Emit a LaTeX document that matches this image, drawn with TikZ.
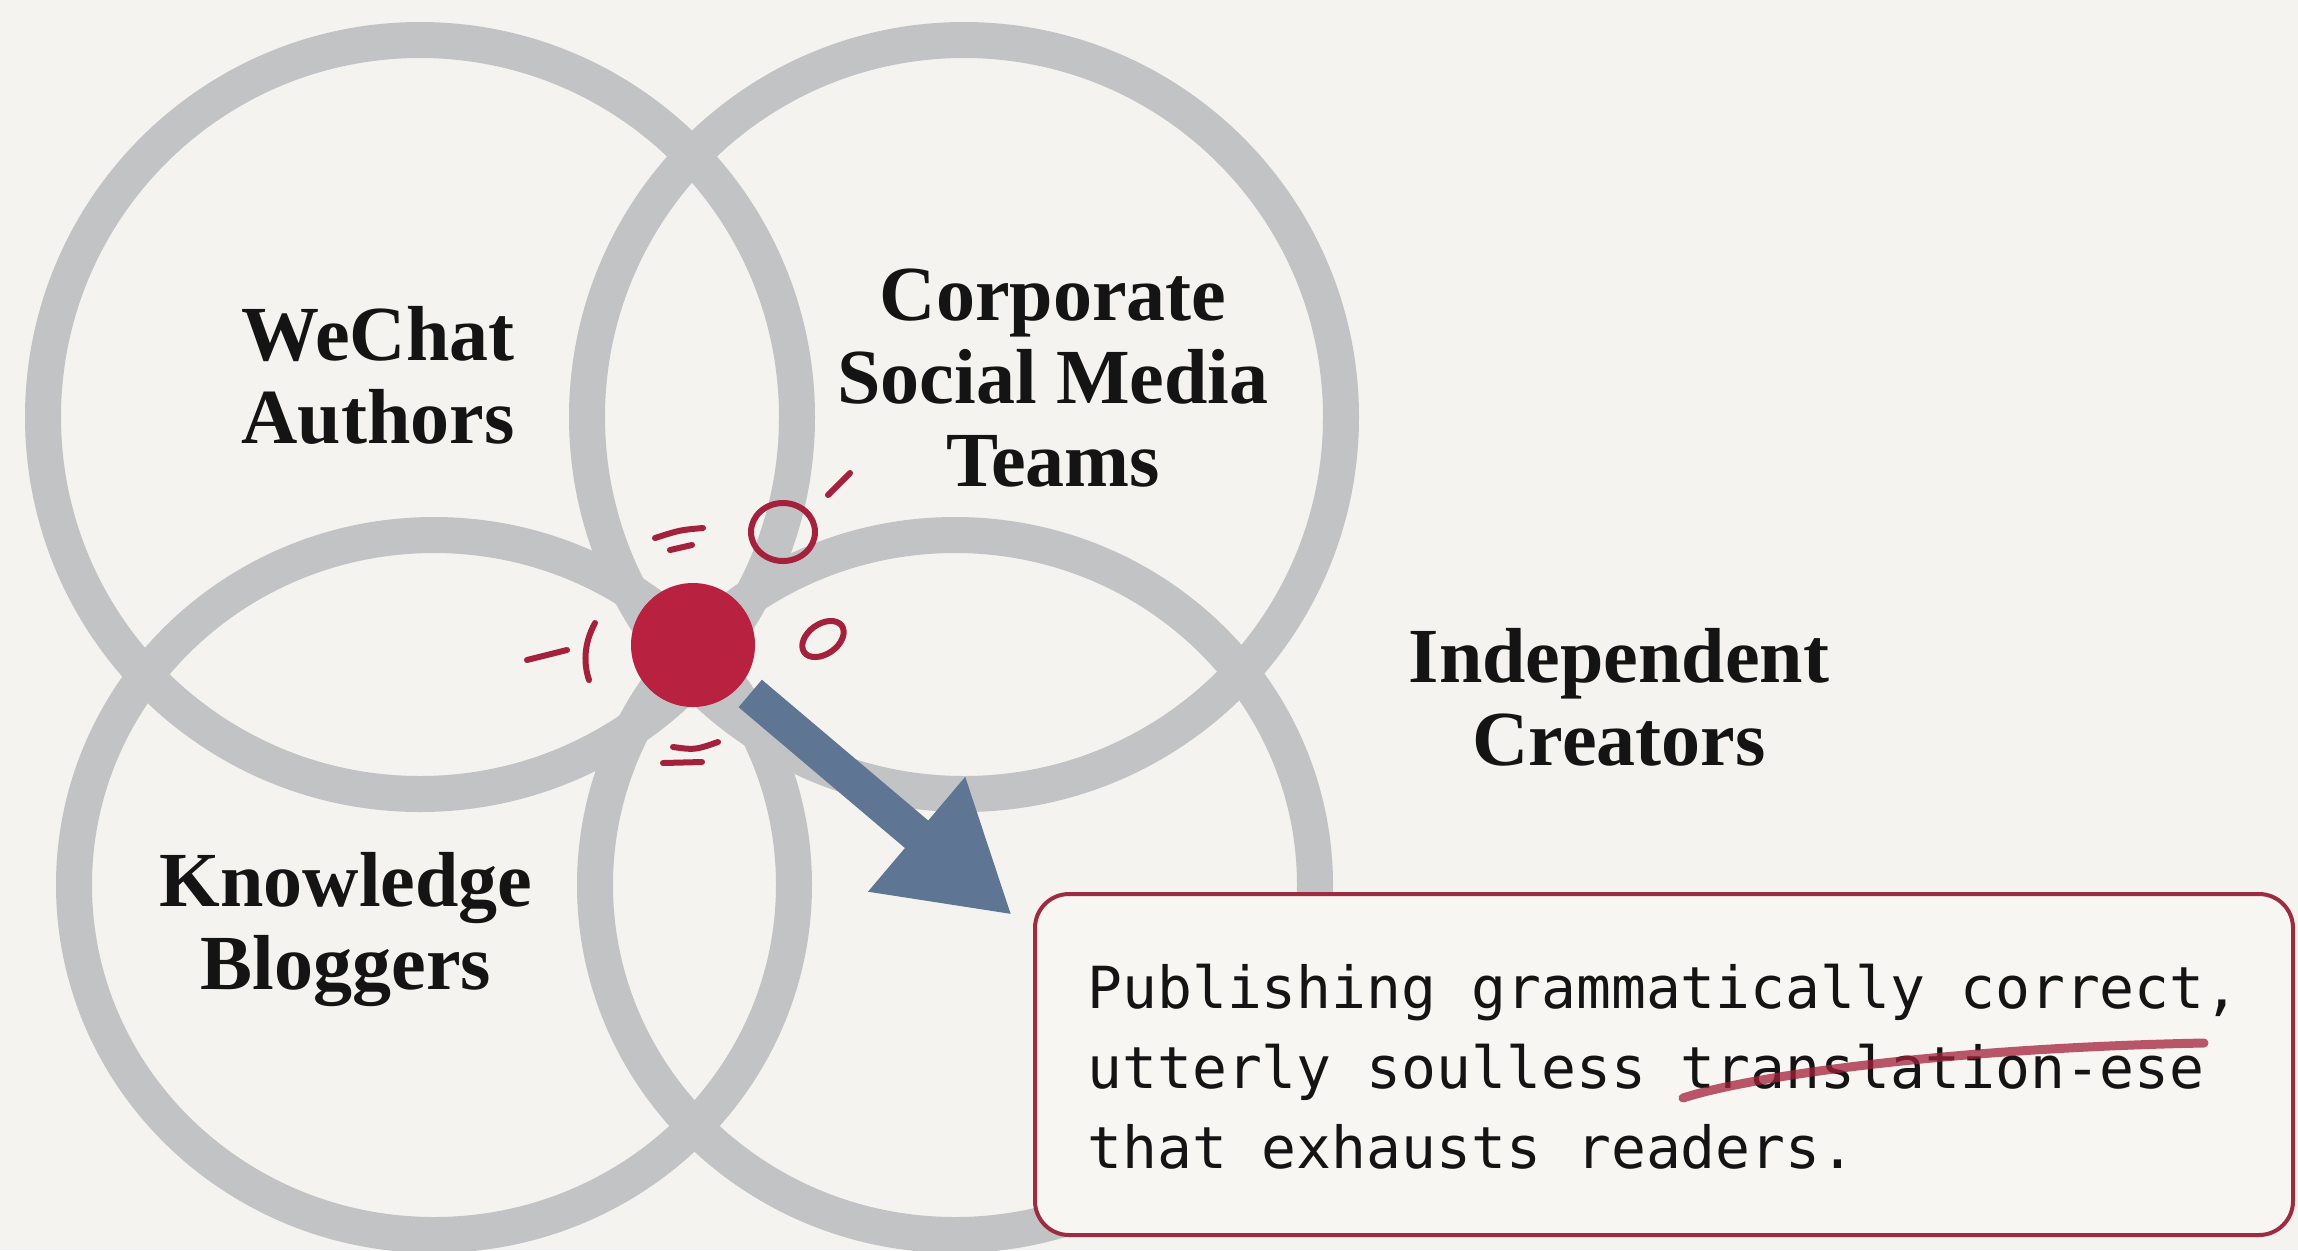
\documentclass[tikz,border=0pt]{standalone}
\usepackage{fontspec}
\setmainfont{Liberation Serif}
\newfontfamily\monotext{DejaVu Sans Mono}
\usetikzlibrary{arrows.meta,calc,shapes.geometric}
\definecolor{bg}{HTML}{F4F3EF}
\definecolor{ring}{HTML}{C2C3C5}
\definecolor{dotred}{HTML}{B8213F}
\definecolor{inkred}{HTML}{A3213A}
\definecolor{arrowblue}{HTML}{5E7594}
\definecolor{boxred}{HTML}{9E2C40}
\definecolor{boxfill}{HTML}{F7F6F3}
\definecolor{labelink}{HTML}{141414}
\begin{document}
\begin{tikzpicture}[x=0.5pt,y=-0.5pt,
  setring/.style={ellipse, draw=ring, line width=18pt, inner sep=0pt},
  setlabel/.style={text=labelink, font=\bfseries\fontsize{39pt}{41.5pt}\selectfont, anchor=base, inner sep=0pt},
  scribble/.style={draw=inkred, line width=3pt, line cap=round, line join=round},
]
\fill[bg] (0,0) rectangle (2298,1250);
\useasboundingbox (0,0) rectangle (2298,1250);

% four rings
\node[setring, minimum width=377pt, minimum height=377pt] (wechatset) at (420,417) {};
\node[setring, minimum width=377pt, minimum height=377pt] (corpset) at (964,417) {};
\node[setring, minimum width=360pt, minimum height=350pt] (knowset) at (434,885) {};
\node[setring, minimum width=360pt, minimum height=350pt] (indset) at (955,885) {};

% labels
\node[setlabel] (wechat) at (378,443) {\begin{tabular}[b]{@{}c@{}}WeChat\\Authors\end{tabular}};
\node[setlabel] (corp) at (1053,486) {\begin{tabular}[b]{@{}c@{}}Corporate\\Social Media\\Teams\end{tabular}};
\node[setlabel] (know) at (346,989) {\begin{tabular}[b]{@{}c@{}}Knowledge\\Bloggers\end{tabular}};
\node[setlabel] (indep) at (1619,765) {\begin{tabular}[b]{@{}c@{}}Independent\\Creators\end{tabular}};

% hand-drawn marks
\draw[scribble] (655,538) .. controls (680,530) .. (703,528);
\draw[scribble] (670,550) -- (692,545);
\draw[scribble] (783,532) ellipse [x radius=32, y radius=29];
\draw[scribble] (828,495) -- (850,473);
\draw[scribble] (527,660) -- (567,650);
\draw[scribble] (595,623) .. controls (583,645) and (584,665) .. (589,680);
\draw[scribble, rotate around={35:(823,639)}] (823,639) ellipse [x radius=23, y radius=15];
\draw[scribble] (673,747) .. controls (695,750) .. (718,742);
\draw[scribble] (663,763) -- (702,762);

% centre dot and arrow
\node[circle, fill=dotred, minimum size=62pt, inner sep=0pt] (dot) at (693,645) {};
\coordinate (tip) at (1012,915);
\draw[arrowblue, line width=18pt, -{Triangle[length=62.5pt,width=70.5pt]}]
  ($(dot.center)!37.5pt!(tip)$) -- (tip);

% callout box
\node[draw=boxred, line width=2pt, fill=boxfill, rounded corners=17pt,
      minimum width=629pt, minimum height=170.5pt, inner sep=0pt] (box) at (1664,1064.5) {};
\node[anchor=base west, inner sep=0pt, text=labelink,
      font=\monotext\fontsize{29pt}{40pt}\selectfont] (boxtext) at (1087,1008)
  {\begin{tabular}[t]{@{}l@{}}Publishing grammatically correct,\\utterly soulless translation-ese\\that exhausts readers.\end{tabular}};
\draw[inkred, opacity=0.75, line width=4.5pt, line cap=round]
  (1683,1098) .. controls (1750,1076) and (1950,1048) .. (2204,1043);
\end{tikzpicture}
\end{document}
